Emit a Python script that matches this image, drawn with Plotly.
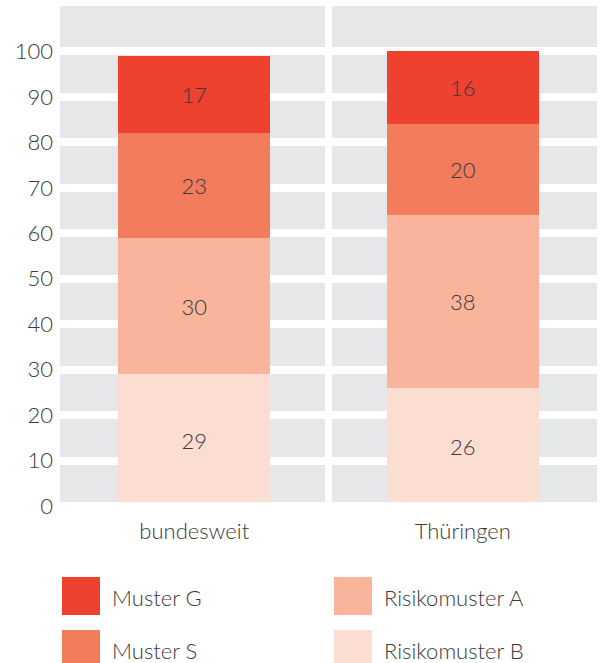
import plotly.graph_objects as go

categories = ["bundesweit", "Thüringen"]
series_names = ["Muster G", "Muster S", "Risikomuster A", "Risikomuster B"]
muster_g = [17, 16]
muster_s = [23, 20]
risiko_a = [30, 38]
risiko_b = [29, 26]
y_ticks = [0, 10, 20, 30, 40, 50, 60, 70, 80, 90, 100]

colors = {
    "Muster G": "#EF4130",
    "Muster S": "#F37C5D",
    "Risikomuster A": "#F9B49B",
    "Risikomuster B": "#FCDDD1",
}
values = {
    "Muster G": muster_g,
    "Muster S": muster_s,
    "Risikomuster A": risiko_a,
    "Risikomuster B": risiko_b,
}

FONT = "Lato"
TXT = "#3a3a3a"

fig = go.Figure()
# stack from bottom up
for name in reversed(series_names):
    fig.add_trace(go.Bar(
        x=categories, y=values[name], name=name,
        marker=dict(color=colors[name], line=dict(width=0)),
        text=[str(v) for v in values[name]],
        textposition="inside", insidetextanchor="middle",
        textfont=dict(family=FONT, size=22, color=TXT, weight=300),
        showlegend=False, hoverinfo="skip",
    ))

W, H = 600, 663
ML, MR, MT, MB = 60, 3, 6, 157
pw, ph = W - ML - MR, H - MT - MB

def px2x(px):
    return (px - ML) / pw

def py2y(py):
    return (H - MB - py) / ph

shapes = [
    # vertical white separator between the two category panels
    dict(type="line", xref="x", yref="paper", x0=0.5, x1=0.5, y0=0, y1=1,
         line=dict(color="white", width=7), layer="above"),
    # white band at the baseline
    dict(type="line", xref="paper", yref="y", x0=0, x1=1, y0=0, y1=0,
         line=dict(color="white", width=8), layer="above"),
]
annotations = []
for i, name in enumerate(series_names):
    col, row = i // 2, i % 2
    sx = 62 + col * 272
    sy = 577 + row * 53
    shapes.append(dict(type="rect", xref="paper", yref="paper",
                       x0=px2x(sx), x1=px2x(sx + 38), y0=py2y(sy), y1=py2y(sy + 38),
                       fillcolor=colors[name], line=dict(width=0)))
    annotations.append(dict(xref="paper", yref="paper", x=px2x(sx + 48), y=py2y(sy + 20),
                            text=name, showarrow=False, xanchor="left", yanchor="middle",
                            font=dict(family=FONT, size=22, color=TXT, weight=300)))

fig.update_layout(
    width=W, height=H,
    margin=dict(l=ML, r=MR, t=MT, b=MB),
    barmode="stack", bargap=0.434,
    plot_bgcolor="#E6E7E9", paper_bgcolor="white",
    shapes=shapes, annotations=annotations,
    showlegend=False,
    xaxis=dict(range=[-0.5, 1.5], showgrid=False, zeroline=False, showline=False,
               ticks="", ticklabelstandoff=10,
               tickfont=dict(family=FONT, size=22, color=TXT, weight=300)),
    yaxis=dict(range=[0, 110], tickvals=y_ticks, showgrid=True, gridcolor="white",
               gridwidth=8, zeroline=False, showline=False, ticks="",
               ticklabelstandoff=6,
               tickfont=dict(family=FONT, size=22, color=TXT, weight=300)),
)

fig.write_html("out.html", config={"displayModeBar": False},
               post_script="document.body.style.margin='0px';")
